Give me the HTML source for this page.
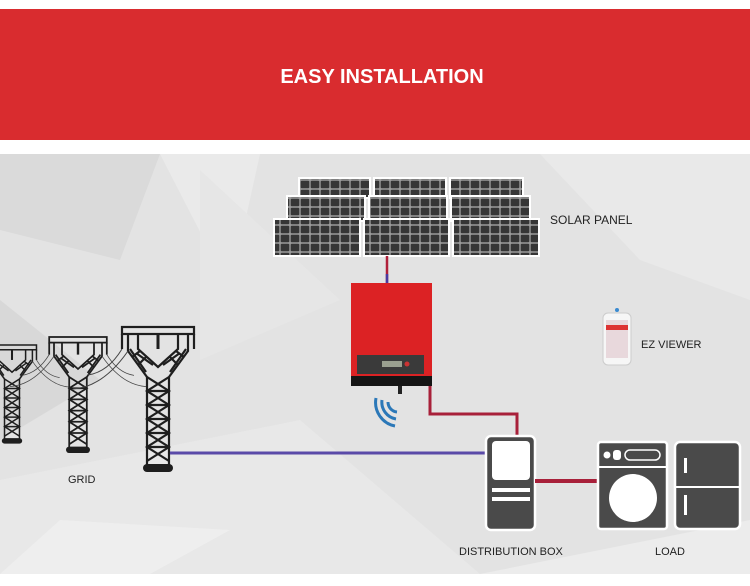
<!DOCTYPE html>
<html><head><meta charset="utf-8"><style>
html,body{margin:0;padding:0;background:#fff;}
svg{display:block}
text{font-family:"Liberation Sans",sans-serif;}
</style></head><body>
<svg width="750" height="586" viewBox="0 0 750 586" xmlns="http://www.w3.org/2000/svg">
<defs>
<pattern id="cells" x="0" y="0" width="10" height="9" patternUnits="userSpaceOnUse">
<rect width="10" height="9" fill="#9a9a9a"/><rect x="0.7" y="0.7" width="8.6" height="7.6" rx="1" fill="#363636"/>
</pattern>
<g id="tw" fill="none" stroke="#1e1e1e" stroke-width="2.2">
<rect x="-36" y="0" width="72" height="7"/>
<line x1="-36" y1="7" x2="-36" y2="22"/><line x1="36" y1="7" x2="36" y2="22"/>
<line x1="0" y1="7" x2="0" y2="22" stroke-width="3"/>
<path d="M-30 7 L-30 24 L-11 50 M30 7 L30 24 L11 50 M-20 7 L-20 22 L0 40 L20 22 L20 7"/>
<path d="M-28 22 L-12 45 M-22 26 L-5 38 M-26 30 L-18 24 M-20 38 L-12 30 M28 22 L12 45 M22 26 L5 38 M26 30 L18 24 M20 38 L12 30"/>
<path d="M-11 50 L-11 138 M11 50 L11 138"/>
<path d="M-11 50 L11 64 L-11 78 L11 92 L-11 106 L11 120 L-11 134 M11 50 L-11 64 L11 78 L-11 92 L11 106 L-11 120 L11 134"/>
<path d="M-11 64 H11 M-11 78 H11 M-11 92 H11 M-11 106 H11 M-11 120 H11"/>
<rect x="-15" y="137" width="30" height="8" rx="4" fill="#1e1e1e" stroke="none"/>
</g>
<g id="wl" fill="none" stroke="#444" stroke-width="1">
<path d="M-36 22 Q-50 45 -70 48"/><path d="M-30 24 Q-55 60 -85 62"/>
</g>
<g id="wr" fill="none" stroke="#444" stroke-width="1">
<path d="M36 22 Q50 45 70 48"/><path d="M30 24 Q55 60 85 62"/>
</g>
</defs>
<rect x="0" y="9" width="750" height="131" fill="#d92c2f"/>
<text x="382" y="83" text-anchor="middle" fill="#fff" font-size="20" font-weight="bold">EASY INSTALLATION</text>
<rect x="0" y="154" width="750" height="420" fill="#e3e3e3"/>
<polygon points="0,154 160,154 120,260 0,230" fill="#dadada"/>
<polygon points="160,154 260,154 230,290" fill="#eaeaea"/>
<polygon points="540,154 750,154 750,300 640,260" fill="#e9e9e9"/>
<polygon points="0,480 300,420 480,574 0,574" fill="#e8e8e8"/>
<polygon points="480,574 750,520 750,574" fill="#ececec"/>
<polygon points="0,300 100,380 0,440" fill="#d8d8d8"/>
<polygon points="200,170 340,300 200,360" fill="#e6e6e6"/>
<polygon points="60,520 230,530 150,574 0,574" fill="#eeeeee"/>
<g stroke="#fff" stroke-width="2">
<rect x="299" y="178" width="71" height="20" fill="url(#cells)"/>
<rect x="374" y="178" width="72" height="20" fill="url(#cells)"/>
<rect x="450" y="178" width="73" height="20" fill="url(#cells)"/>
<rect x="287" y="196" width="78" height="25" fill="url(#cells)"/>
<rect x="369" y="196" width="78" height="25" fill="url(#cells)"/>
<rect x="451" y="196" width="79" height="25" fill="url(#cells)"/>
<rect x="274" y="219" width="86" height="37" fill="url(#cells)"/>
<rect x="364" y="219" width="85" height="37" fill="url(#cells)"/>
<rect x="453" y="219" width="86" height="37" fill="url(#cells)"/>
</g>
<text x="550" y="224" font-size="12" fill="#222">SOLAR PANEL</text>
<line x1="387" y1="256" x2="387" y2="283" stroke="#b0203a" stroke-width="2.5"/>
<line x1="387" y1="274" x2="387" y2="283" stroke="#4a3aa0" stroke-width="2.5"/>
<rect x="351" y="283" width="81" height="93" fill="#dc2224"/>
<rect x="351" y="376" width="81" height="10" fill="#151515"/>
<rect x="398" y="386" width="4" height="8" fill="#222"/>
<rect x="357" y="355" width="67" height="19" fill="#3a3a3a"/>
<rect x="382" y="361" width="20" height="6" fill="#9aa090"/>
<circle cx="407" cy="364" r="2.5" fill="#c33"/>
<g fill="none" stroke="#2b78b8" stroke-width="3">
<path d="M388 402 A10 10 0 0 0 397 412"/>
<path d="M382 400 A17 17 0 0 0 396 419"/>
<path d="M376 398 A24 24 0 0 0 395 426"/>
</g>
<polyline points="430,386 430,414 517,414 517,437" fill="none" stroke="#a8203a" stroke-width="3"/>
<g transform="translate(12,345) scale(0.68)"><use href="#tw"/><use href="#wl"/><use href="#wr"/></g>
<g transform="translate(78,337) scale(0.8)"><use href="#tw"/><use href="#wl"/><use href="#wr"/></g>
<g transform="translate(158,327)"><use href="#tw"/><use href="#wl"/></g>
<line x1="170" y1="453" x2="486" y2="453" stroke="#5a4aa8" stroke-width="3"/>
<text x="68" y="483" font-size="11" fill="#222">GRID</text>
<rect x="603" y="313" width="28" height="52" rx="5" fill="#f6f6f6" stroke="#ccc"/>
<rect x="606" y="320" width="22" height="38" fill="#e8d8dc"/>
<rect x="606" y="325" width="22" height="5" fill="#d33"/>
<circle cx="617" cy="310" r="2" fill="#3a8ad0"/>
<text x="641" y="348" font-size="11" fill="#222">EZ VIEWER</text>
<rect x="486" y="436" width="49" height="94" rx="5" fill="#4a4a4a" stroke="#fff" stroke-width="2.5"/>
<rect x="492" y="441" width="38" height="39" rx="4" fill="#fff"/>
<rect x="492" y="488" width="38" height="4" fill="#fff"/>
<rect x="492" y="497" width="38" height="4" fill="#fff"/>
<line x1="535" y1="481" x2="598" y2="481" stroke="#a8203a" stroke-width="4"/>
<rect x="598" y="442" width="69" height="87" rx="3" fill="#4a4a4a" stroke="#fff" stroke-width="2.5"/>
<line x1="598" y1="467" x2="667" y2="467" stroke="#fff" stroke-width="2"/>
<circle cx="607" cy="455" r="3.5" fill="#fff"/>
<rect x="613" y="450" width="8" height="10" rx="3" fill="#fff"/>
<rect x="625" y="450" width="35" height="10" rx="5" fill="none" stroke="#fff" stroke-width="1.5"/>
<circle cx="633" cy="498" r="24" fill="#fff"/>
<rect x="675" y="442" width="65" height="87" rx="5" fill="#4a4a4a" stroke="#fff" stroke-width="2.5"/>
<line x1="675" y1="487" x2="740" y2="487" stroke="#fff" stroke-width="2"/>
<rect x="684" y="458" width="3" height="15" fill="#fff"/>
<rect x="684" y="495" width="3" height="20" fill="#fff"/>
<text x="459" y="555" font-size="11" fill="#222">DISTRIBUTION BOX</text>
<text x="655" y="555" font-size="11" fill="#222">LOAD</text>
</svg>
</body></html>
